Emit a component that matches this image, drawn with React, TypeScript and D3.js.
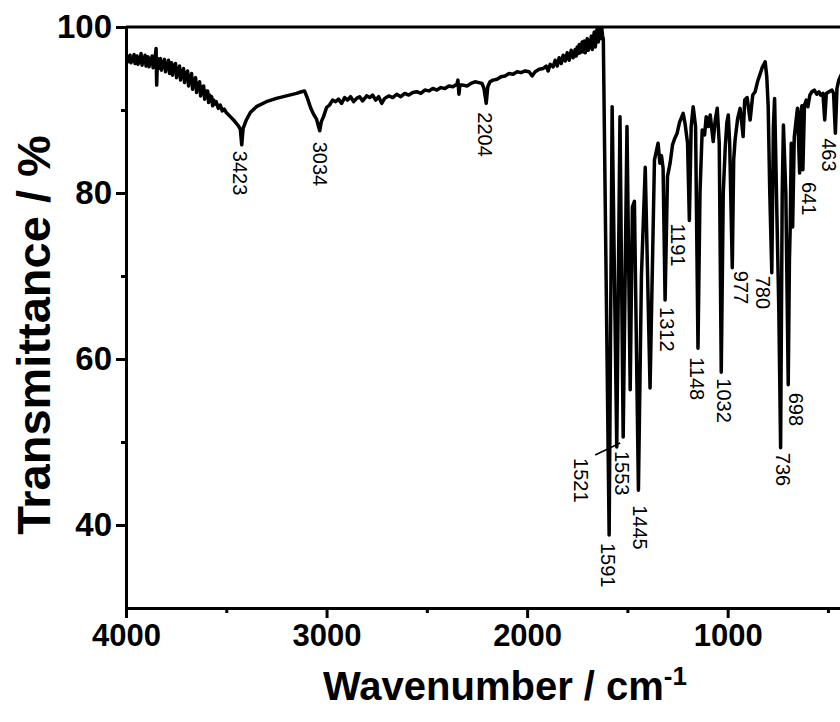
import React, { useEffect, useRef } from "react";
import * as d3 from "d3";

// axis ticks
const xTicks = [4000, 3000, 2000, 1000];
const xMinorTicks = [3500, 2500, 1500, 500];
const yTicks = [40, 60, 80, 100];
const yMinorTicks = [50, 70, 90];

// spectrum, [wavenumber, transmittance %]
const ohRegion: [number, number][] = [
  [4000, 96.0], [3995, 96.4], [3990, 95.8], [3985, 96.3], [3980, 96.6], [3975, 95.7],
  [3970, 96.2], [3965, 95.9], [3960, 96.7], [3955, 95.6], [3950, 96.1], [3945, 96.5],
  [3940, 95.5], [3935, 96.3], [3930, 95.8], [3925, 96.8], [3920, 95.4], [3915, 96.2],
  [3910, 95.9], [3905, 96.6], [3900, 95.3], [3895, 96.0], [3890, 96.4], [3885, 95.2],
  [3880, 96.1], [3875, 95.6], [3870, 96.5], [3865, 95.1], [3860, 95.9], [3855, 96.3],
  [3850, 97.4], [3847, 93.0], [3843, 96.2], [3838, 95.0], [3833, 95.9], [3828, 96.2],
  [3823, 94.8], [3818, 95.8], [3813, 95.3], [3808, 96.1], [3803, 94.6], [3798, 95.6],
  [3793, 95.0], [3788, 96.0], [3783, 94.4], [3778, 95.3], [3773, 95.7], [3768, 94.2],
  [3763, 95.4], [3758, 94.6], [3753, 95.6], [3748, 93.9], [3743, 95.0], [3738, 94.3],
  [3733, 95.3], [3728, 93.6], [3723, 94.7], [3718, 94.0], [3713, 95.0], [3708, 93.3],
  [3703, 94.5], [3698, 93.7], [3693, 94.7], [3688, 92.9], [3683, 94.1], [3678, 93.3],
  [3673, 94.4], [3668, 92.5], [3663, 93.7], [3658, 92.9], [3653, 93.9], [3648, 92.1],
  [3643, 93.2], [3638, 92.5], [3633, 93.4], [3628, 91.7], [3623, 92.8], [3618, 92.0],
  [3613, 92.9], [3608, 91.3], [3603, 92.3], [3598, 91.6], [3593, 92.3], [3588, 90.9],
  [3583, 91.8], [3578, 91.1], [3573, 91.6], [3568, 90.5], [3563, 91.2], [3558, 90.7],
  [3550, 91.0], [3540, 90.2], [3530, 90.6], [3520, 89.9], [3510, 90.1], [3500, 89.7],
  [3480, 89.2], [3460, 88.7], [3440, 88.1], [3430, 87.7], [3423, 85.8], [3416, 87.8],
  [3400, 88.8], [3380, 89.7],
];

const chRegion: [number, number][] = [
  [3350, 90.4], [3300, 91.0], [3250, 91.4], [3200, 91.7], [3150, 92.0], [3125, 92.2],
  [3110, 92.3], [3095, 91.4], [3080, 90.3], [3065, 89.5], [3050, 88.9], [3040, 88.0],
  [3034, 87.5], [3026, 88.6], [3015, 89.2], [3000, 90.3], [2985, 90.6], [2970, 91.2],
  [2955, 91.0], [2940, 91.3], [2925, 90.8], [2910, 91.5], [2895, 91.2], [2880, 91.6],
  [2865, 91.0], [2850, 91.4], [2835, 91.6], [2820, 91.1], [2800, 91.7], [2785, 91.5],
  [2770, 91.8], [2755, 91.2], [2740, 91.6], [2725, 90.8], [2710, 91.4], [2690, 91.7],
  [2670, 91.5], [2650, 91.9], [2630, 91.6], [2610, 92.0], [2590, 91.8], [2570, 92.1],
  [2550, 92.2], [2530, 92.0], [2510, 92.4], [2490, 92.3], [2470, 92.6], [2450, 92.4],
  [2430, 92.7], [2410, 92.6], [2390, 92.9], [2370, 92.8], [2350, 93.1], [2345, 93.6],
  [2340, 91.9], [2335, 93.0], [2320, 93.0], [2300, 92.9], [2280, 93.2], [2260, 93.4],
  [2240, 93.3], [2225, 93.2], [2215, 92.6], [2204, 90.8], [2196, 92.8], [2185, 93.4],
  [2170, 93.6], [2150, 93.7], [2130, 94.0], [2110, 94.1], [2090, 94.4], [2070, 94.3],
  [2050, 94.6], [2030, 94.5], [2010, 94.7], [1990, 94.6], [1975, 94.1], [1960, 94.6],
  [1940, 94.9], [1920, 95.0], [1905, 95.3], [1895, 94.7], [1885, 95.5], [1870, 95.2],
  [1860, 96.0], [1850, 95.3], [1840, 96.3], [1830, 95.6], [1820, 96.6], [1810, 95.9],
  [1800, 96.9], [1790, 96.0], [1780, 97.2], [1770, 96.3], [1760, 97.3], [1755, 96.5],
  [1750, 97.6], [1745, 96.8], [1740, 97.9], [1735, 96.9], [1730, 97.6], [1725, 98.2],
  [1720, 97.0], [1715, 98.3], [1710, 96.9], [1705, 97.8], [1700, 98.6], [1695, 97.2],
  [1690, 98.3], [1685, 97.5], [1680, 98.9], [1675, 97.3], [1670, 98.6], [1665, 99.4],
  [1660, 97.6], [1655, 99.0], [1650, 99.9], [1645, 98.2], [1640, 99.5], [1636, 100.4],
  [1632, 98.6], [1628, 99.9], [1624, 99.0], [1620, 98.5],
];

const fingerprint: [number, number][] = [
  [1591, 38.8], [1576, 90.4], [1553, 49.4], [1537, 89.2], [1521, 50.6], [1502, 88.0],
  [1486, 56.3], [1475, 78.3], [1465, 79.0], [1445, 44.2], [1430, 70.0], [1411, 83.1],
  [1387, 56.5], [1365, 84.0], [1347, 86.0], [1338, 83.6], [1330, 84.5], [1322, 83.0],
  [1312, 67.1], [1300, 82.0], [1287, 83.6], [1275, 85.8], [1265, 86.5], [1252, 87.2],
  [1240, 88.5], [1222, 89.6], [1212, 88.3], [1200, 86.0], [1191, 76.7], [1182, 88.0],
  [1172, 90.4], [1160, 88.0], [1148, 61.3], [1138, 80.0], [1127, 87.6], [1115, 87.0],
  [1107, 89.2], [1097, 88.0], [1087, 89.4], [1072, 86.2], [1062, 88.8], [1052, 90.2],
  [1042, 86.0], [1032, 58.4], [1022, 80.0], [1012, 85.5], [1004, 88.5], [997, 89.4],
  [990, 86.0], [977, 71.0], [970, 84.0], [963, 86.4], [950, 89.0], [938, 90.2],
  [930, 88.5], [923, 86.8], [915, 91.2], [903, 91.5], [888, 88.8], [875, 91.8],
  [863, 92.2], [850, 93.5], [840, 94.2], [828, 95.1], [813, 95.8], [805, 94.0],
  [798, 90.5], [790, 80.0], [780, 70.4], [772, 88.0], [766, 91.4], [755, 78.0],
  [745, 66.0], [736, 49.3], [728, 80.0], [722, 88.2], [710, 80.0], [698, 56.9],
  [692, 72.0], [688, 76.0], [683, 86.0], [676, 75.9], [668, 86.7], [660, 88.5],
  [652, 90.2], [641, 82.4], [636, 89.5], [630, 90.5], [625, 82.8], [617, 90.6],
  [608, 91.2], [600, 90.4], [590, 91.8], [580, 92.2], [568, 92.4], [555, 91.9],
  [545, 92.2], [536, 91.8], [525, 92.0], [516, 88.8], [508, 92.0], [495, 92.2],
  [480, 92.4], [472, 92.0], [463, 87.2], [455, 92.6], [446, 93.6], [435, 94.2],
  [420, 94.6], [400, 95.0],
];

// assigned bands
const peakNames = ["3423", "3034", "2204", "1591", "1553", "1521", "1445", "1312", "1191",
  "1148", "1032", "977", "780", "736", "698", "641", "463"];
const peakWn = [3423, 3034, 2204, 1591, 1553, 1521, 1445, 1312, 1191, 1148, 1032, 977,
  780, 736, 698, 641, 463];
const peakT = [85.8, 87.5, 90.8, 38.8, 49.4, 50.6, 44.2, 67.1, 76.7, 61.3, 58.4, 71.0,
  70.4, 49.3, 56.9, 82.4, 87.2];

const FONT = "'Liberation Sans', Arial, Helvetica, sans-serif";

const App = () => {
  const ref = useRef<SVGSVGElement>(null);

  useEffect(() => {
    const width = 840;
    const height = 722;
    const left = 126;
    const right = 848;
    const top = 27;
    const bottom = 608;

    const svg = d3.select(ref.current);
    svg.selectAll("*").remove();
    svg.attr("width", width).attr("height", height);

    const x = d3.scaleLinear().domain([4000, 400]).range([left, right]);
    const y = d3.scaleLinear().domain([30, 100]).range([bottom, top]);

    svg
      .append("defs")
      .append("clipPath")
      .attr("id", "plot-clip")
      .append("rect")
      .attr("x", left)
      .attr("y", top)
      .attr("width", right - left)
      .attr("height", bottom - top);

    const spectrum = [...ohRegion, ...chRegion, ...fingerprint];
    const line = d3
      .line<[number, number]>()
      .x((d) => x(d[0]))
      .y((d) => y(d[1]));

    svg
      .append("path")
      .datum(spectrum)
      .attr("clip-path", "url(#plot-clip)")
      .attr("d", line)
      .attr("fill", "none")
      .attr("stroke", "#000")
      .attr("stroke-width", 3.5)
      .attr("stroke-linejoin", "round");

    // frame top
    svg
      .append("line")
      .attr("x1", left)
      .attr("x2", right)
      .attr("y1", top)
      .attr("y2", top)
      .attr("stroke", "#000")
      .attr("stroke-width", 3);

    const styleAxis = (g: any, size: number) => {
      g.select(".domain").attr("stroke-width", 3);
      g.selectAll(".tick line").attr("stroke-width", 3);
      g.selectAll(".tick text")
        .attr("font-family", FONT)
        .attr("font-weight", "bold")
        .attr("font-size", size)
        .attr("fill", "#000");
    };

    svg
      .append("g")
      .attr("transform", `translate(0,${bottom})`)
      .call(d3.axisBottom(x).tickValues(xMinorTicks).tickSize(5).tickSizeOuter(0).tickFormat(() => ""))
      .call(styleAxis, 31);
    svg
      .append("g")
      .attr("transform", `translate(0,${bottom})`)
      .call(d3.axisBottom(x).tickValues(xTicks).tickSize(10).tickSizeOuter(0).tickPadding(6).tickFormat(d3.format("d")))
      .call(styleAxis, 31);

    svg
      .append("g")
      .attr("transform", `translate(${left},0)`)
      .call(d3.axisLeft(y).tickValues(yMinorTicks).tickSize(5).tickSizeOuter(0).tickFormat(() => ""))
      .call(styleAxis, 33);
    svg
      .append("g")
      .attr("transform", `translate(${left},0)`)
      .call(d3.axisLeft(y).tickValues(yTicks).tickSize(10).tickSizeOuter(0).tickPadding(4).tickFormat(d3.format("d")))
      .call(styleAxis, 33);

    // axis titles
    const xt = svg
      .append("text")
      .attr("x", 505)
      .attr("y", 700)
      .attr("text-anchor", "middle")
      .attr("font-family", FONT)
      .attr("font-weight", "bold")
      .attr("font-size", 40)
      .text("Wavenumber / cm");
    xt.append("tspan").attr("dy", -15).attr("font-size", 26).text("-1");

    svg
      .append("text")
      .attr("transform", `translate(50,335) rotate(-90)`)
      .attr("text-anchor", "middle")
      .attr("font-family", FONT)
      .attr("font-weight", "bold")
      .attr("font-size", 47)
      .text("Transmittance / %");

    // peak labels, offsets from the band tip in px
    const nudge: [number, number][] = [
      [-2, 6], [0, 11], [-1, 9], [-1, 8], [5, 4], [-42, 21], [2, 15], [2, 7], [-11, 3],
      [-1, 9], [3, 6], [9, 3], [-9, 3], [2, 5], [8, 8], [9, 9], [-6, 5],
    ];

    peakNames.forEach((name, i) => {
      const px = x(peakWn[i]);
      const py = y(peakT[i]);
      svg
        .append("text")
        .attr("transform", `translate(${px + nudge[i][0]},${py + nudge[i][1]}) rotate(90)`)
        .attr("dominant-baseline", "central")
        .attr("font-family", FONT)
        .attr("font-size", 20)
        .attr("fill", "#000")
        .text(name);
      if (name === "1521") {
        svg
          .append("line")
          .attr("x1", px - 28)
          .attr("y1", py + 18)
          .attr("x2", px - 3)
          .attr("y2", py + 6)
          .attr("stroke", "#000")
          .attr("stroke-width", 1.5);
      }
    });
  }, []);

  return (
    <div style={{ position: "absolute", left: 0, top: 0, background: "#fff" }}>
      <svg ref={ref} style={{ display: "block" }}></svg>
    </div>
  );
};

export default App;
